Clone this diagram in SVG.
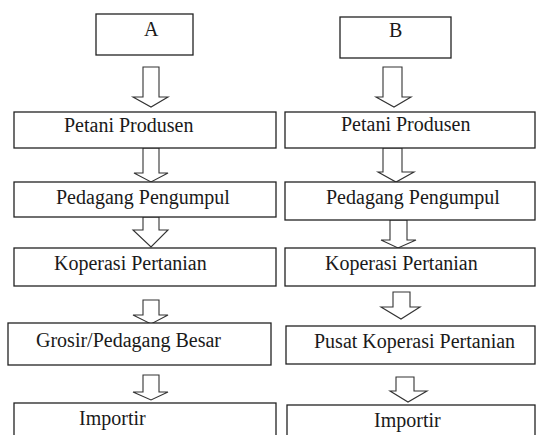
<svg xmlns="http://www.w3.org/2000/svg" width="538" height="435" viewBox="0 0 538 435">
<style>
.box{fill:#fff;stroke:#222;stroke-width:1.3}
.arr{fill:#fff;stroke:#333;stroke-width:1.1}
</style>
<rect width="538" height="435" fill="#fff"/>
<g id="connectors">
<polygon class="arr" points="143,67 159,67 159,97 168,97 151,107 133,97 143,97"/>
<polygon class="arr" points="143,148 159,148 159,173 168,173 151,182 134,173 143,173"/>
<polygon class="arr" points="143,217 159,217 159,230 168,230 151,247 133,230 143,230"/>
<polygon class="arr" points="143,300 159,300 159,315 168,315 151,324 133,315 143,315"/>
<polygon class="arr" points="143,375 159,375 159,392 168,392 151,400 133,392 143,392"/>
<polygon class="arr" points="383,67 402,67 402,97 411,97 394,107 376,97 383,97"/>
<polygon class="arr" points="383,148 402,148 402,172 414,172 396,182 378,172 383,172"/>
<polygon class="arr" points="390,220 407,220 407,240 416,240 398,248 381,240 390,240"/>
<polygon class="arr" points="393,292 410,292 410,307 420,307 401,319 381,307 393,307"/>
<polygon class="arr" points="396,377 414,377 414,391 427,391 408,402 390,391 396,391"/>
</g>
<g id="nodeA"><rect class="box" x="96" y="14" width="97" height="41"/><text x="144" y="36" font-family="Liberation Serif" font-size="20" fill="#1a1a1a">A</text></g>
<g id="nodeB"><rect class="box" x="340" y="17" width="111" height="41"/><text x="389" y="37" font-family="Liberation Serif" font-size="20" fill="#1a1a1a">B</text></g>
<g id="a1"><rect class="box" x="14" y="112" width="262" height="36"/><text x="64" y="132" font-family="Liberation Serif" font-size="20" fill="#1a1a1a">Petani Produsen</text></g>
<g id="a2"><rect class="box" x="14" y="182" width="262" height="35"/><text x="56" y="204" font-family="Liberation Serif" font-size="20" fill="#1a1a1a">Pedagang Pengumpul</text></g>
<g id="a3"><rect class="box" x="14" y="248" width="262" height="38"/><text x="54" y="270" font-family="Liberation Serif" font-size="20" fill="#1a1a1a">Koperasi Pertanian</text></g>
<g id="a4"><rect class="box" x="8" y="323" width="263" height="42"/><text x="36" y="347" font-family="Liberation Serif" font-size="20" fill="#1a1a1a">Grosir/Pedagang Besar</text></g>
<g id="a5"><rect class="box" x="14" y="403" width="262" height="40"/><text x="79" y="425" font-family="Liberation Serif" font-size="20" fill="#1a1a1a">Importir</text></g>
<g id="b1"><rect class="box" x="285" y="112" width="250" height="36"/><text x="341" y="131" font-family="Liberation Serif" font-size="20" fill="#1a1a1a">Petani Produsen</text></g>
<g id="b2"><rect class="box" x="285" y="182" width="250" height="38"/><text x="326" y="204" font-family="Liberation Serif" font-size="20" fill="#1a1a1a">Pedagang Pengumpul</text></g>
<g id="b3"><rect class="box" x="285" y="248" width="250" height="38"/><text x="325" y="270" font-family="Liberation Serif" font-size="20" fill="#1a1a1a">Koperasi Pertanian</text></g>
<g id="b4"><rect class="box" x="286" y="326" width="249" height="38"/><text x="314" y="348" font-family="Liberation Serif" font-size="20" fill="#1a1a1a">Pusat Koperasi Pertanian</text></g>
<g id="b5"><rect class="box" x="287" y="405" width="248" height="40"/><text x="374" y="427" font-family="Liberation Serif" font-size="20" fill="#1a1a1a">Importir</text></g>
</svg>
